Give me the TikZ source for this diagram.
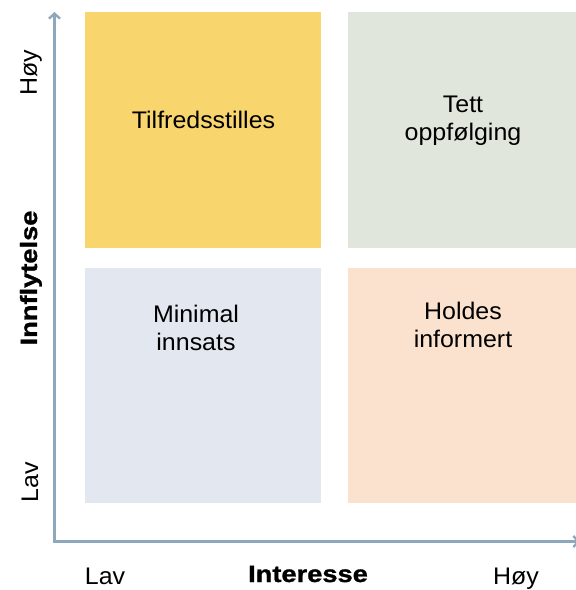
\documentclass[tikz,border=0pt]{standalone}
\usepackage{fontspec}
\setmainfont[FakeStretch=1.04]{Liberation Sans}
\newfontfamily\heavyfont[FakeStretch=1.16, BoldFeatures={FakeBold=1.2}]{Liberation Sans}
\usetikzlibrary{positioning, arrows.meta}
\definecolor{axiscol}{HTML}{8DA7BC}
\definecolor{yellowq}{HTML}{F9D56E}
\definecolor{greenq}{HTML}{E1E6DC}
\definecolor{blueq}{HTML}{E3E7EF}
\definecolor{peachq}{HTML}{FBE2CF}

\begin{document}
\begin{tikzpicture}[x=1pt, y=-1pt,
    quad/.style={draw=none, inner sep=0pt},
    quadtext/.style={font=\fontsize{24}{28}\selectfont, align=center, inner sep=0pt},
    axislabel/.style={font=\fontsize{24}{28}\selectfont, inner sep=0pt},
    axistitle/.style={font=\heavyfont\bfseries\fontsize{23.5}{28}\selectfont, inner sep=0pt},
    axisline/.style={draw=axiscol, line width=2.4pt,
      {Straight Barb[length=5pt, width=11pt]}-{Straight Barb[length=5pt, width=11pt]}}]
  \useasboundingbox (0,0) rectangle (576,590);

  % the four quadrants
  \node[quad, fill=yellowq, minimum width=236pt, minimum height=235.5pt] (tilfreds) at (203,129.8) {};
  \node[quad, fill=greenq, minimum width=228pt, minimum height=235.5pt] (tett) at (462,129.8) {};
  \node[quad, fill=blueq, minimum width=236pt, minimum height=235pt] (minimal) at (203,385.5) {};
  \node[quad, fill=peachq, minimum width=228pt, minimum height=235pt] (holdes) at (462,385.5) {};

  % base = last line
  \node[quadtext, anchor=base] (tilfredstxt) at (203.5,128) {Tilfredsstilles};
  \node[quadtext, anchor=base] (tetttxt) at (463,140) {Tett\\oppfølging};
  \node[quadtext, anchor=base] (minimaltxt) at (196,350) {Minimal\\innsats};
  \node[quadtext, anchor=base] (holdestxt) at (463,347) {Holdes\\informert};

  % axes
  \coordinate (ytop) at (54.5,12);
  \coordinate (origin) at (54.5,541.5);
  \coordinate (xend) at (580,541.5);
  \draw[axisline] (ytop) -- (origin) -- (xend);

  % axis labels
  \node[axislabel, rotate=90, anchor=base] (yhigh) at (37,73) {Høy};
  \node[axistitle, rotate=90, anchor=base] (ytitle) at (37,278) {Innflytelse};
  \node[axislabel, rotate=90, anchor=base] (ylow) at (38,482) {Lav};
  \node[axislabel, anchor=base] (xlow) at (105,584) {Lav};
  \node[axistitle, anchor=base] (xtitle) at (308,582) {Interesse};
  \node[axislabel, anchor=base] (xhigh) at (516,584) {Høy};
\end{tikzpicture}
\end{document}
